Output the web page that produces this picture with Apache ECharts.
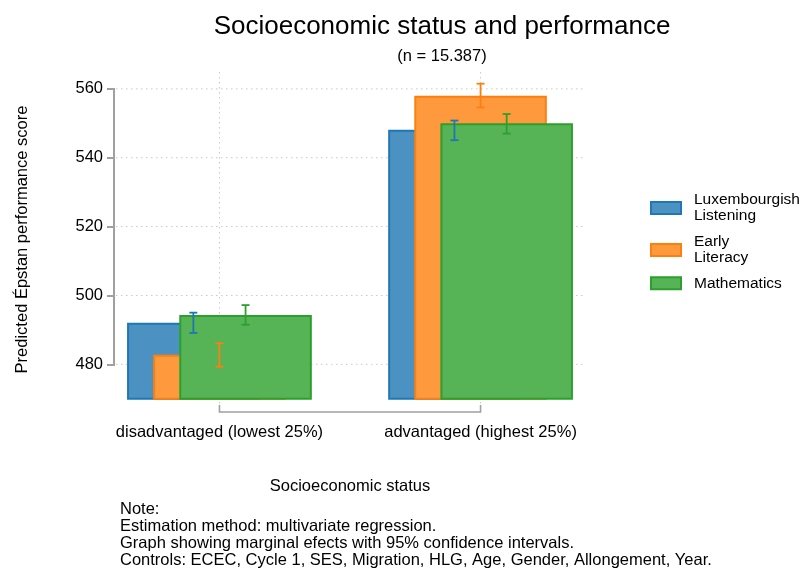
<!DOCTYPE html>
<html>
<head>
<meta charset="utf-8">
<script src="https://cdn.jsdelivr.net/npm/echarts@6/dist/echarts.min.js"></script>
<style>
  html, body { margin: 0; padding: 0; background: #fff; }
  #main { width: 808px; height: 569px; }
</style>
</head>
<body>
<div id="main"></div>
<script>
// categories on the x axis (placed at 0 and 1 on a value axis)
var categories = ['disadvantaged (lowest 25%)', 'advantaged (highest 25%)'];
var seriesNames = ['Luxembourgish\nListening', 'Early\nLiteracy', 'Mathematics'];

// predicted scores + 95% CI
var listening   = [491.8, 547.8];
var listeningLo = [489.1, 545.1];
var listeningHi = [495.0, 550.8];

var literacy    = [482.5, 557.7];
var literacyLo  = [479.3, 554.6];
var literacyHi  = [486.1, 561.5];

var maths       = [494.0, 549.7];
var mathsLo     = [491.5, 547.0];
var mathsHi     = [497.2, 552.7];

var yTicks = [480, 500, 520, 540, 560];
var notes = [
    'Note:',
    'Estimation method: multivariate regression.',
    'Graph showing marginal efects with 95% confidence intervals.',
    'Controls: ECEC, Cycle 1, SES, Migration, HLG, Age, Gender, Allongement, Year.'
];

var base = 470;      // bars start here
var barW = 0.5;      // bar width in x units
var shift = 0.1;     // offset between overlapping bars
var font = 'Liberation Sans, Arial, Helvetica, sans-serif';

var strokes = ['#1f77b4', '#ff7f0e', '#2ca02c'];
var fills   = ['#4b92c3', '#ff993e', '#56b356'];

function barData(vals) {
    return vals.map(function (v, i) { return [i, v]; });
}
function ciData(lo, hi) {
    return lo.map(function (v, i) { return [i, v, hi[i]]; });
}

function barRender(k) {
    return function (params, api) {
        var x = api.value(0) + (k - 1) * shift;
        var tl = api.coord([x - barW / 2, api.value(1)]);
        var br = api.coord([x + barW / 2, base]);
        return {
            type: 'rect',
            shape: { x: tl[0], y: tl[1], width: br[0] - tl[0], height: br[1] - tl[1] },
            style: { fill: fills[k], stroke: strokes[k], lineWidth: 2 }
        };
    };
}

function errRender(k) {
    return function (params, api) {
        var x = api.value(0) + (k - 1) * shift;
        var lo = api.coord([x, api.value(1)]);
        var hi = api.coord([x, api.value(2)]);
        var c = 4;
        var st = { stroke: strokes[k], lineWidth: 1.8 };
        return {
            type: 'group',
            children: [
                { type: 'line', shape: { x1: lo[0], y1: lo[1], x2: hi[0], y2: hi[1] }, style: st },
                { type: 'line', shape: { x1: lo[0] - c, y1: lo[1], x2: lo[0] + c, y2: lo[1] }, style: st },
                { type: 'line', shape: { x1: hi[0] - c, y1: hi[1], x2: hi[0] + c, y2: hi[1] }, style: st }
            ]
        };
    };
}

// grid lines, y axis line and the x bracket
function decoRender(params, api) {
    var kids = [];
    var dotted = { stroke: '#c8c8c8', lineWidth: 1, lineDash: [1.5, 3.5] };
    yTicks.forEach(function (t) {
        var a = api.coord([-0.4, t]), b = api.coord([1.4, t]);
        kids.push({ type: 'line', shape: { x1: a[0] + 1, y1: a[1], x2: b[0], y2: b[1] }, style: dotted });
    });
    categories.forEach(function (c, i) {
        var a = api.coord([i, 564.9]), b = api.coord([i, 467.6]);
        kids.push({ type: 'line', shape: { x1: a[0], y1: a[1], x2: b[0], y2: b[1] }, style: dotted });
    });
    var y0 = api.coord([-0.4, yTicks[0]]), y1 = api.coord([-0.4, yTicks[yTicks.length - 1]]);
    kids.push({ type: 'line', shape: { x1: y0[0] - 1, y1: y0[1], x2: y1[0] - 1, y2: y1[1] }, style: { stroke: '#a0a0a0', lineWidth: 2 } });
    var p0 = api.coord([0, 467.6]), p1 = api.coord([1, 467.6]);
    var by = p0[1] + 5;
    kids.push({ type: 'polyline', shape: { points: [[p0[0], p0[1] - 2], [p0[0], by], [p1[0], by], [p1[0], p1[1] - 2]] }, style: { stroke: '#a0a0a0', lineWidth: 1.6, fill: null } });
    return { type: 'group', children: kids };
}

var chart = echarts.init(document.getElementById('main'));

var option = {
    backgroundColor: '#fff',
    animation: false,
    textStyle: { fontFamily: font },
    title: [
        { text: 'Socioeconomic status and performance', left: 442, top: 27, padding: 0,
          textAlign: 'center', textVerticalAlign: 'middle',
          textStyle: { fontSize: 26, fontWeight: 'normal', color: '#000', fontFamily: font } },
        { text: '(n = 15.387)', left: 442, top: 56, padding: 0,
          textAlign: 'center', textVerticalAlign: 'middle',
          textStyle: { fontSize: 16.5, fontWeight: 'normal', color: '#000', fontFamily: font } },
        { text: notes.join('\n'), left: 120, top: 501.5, padding: 0,
          textStyle: { fontSize: 16.5, lineHeight: 16.8, fontWeight: 'normal', color: '#000', fontFamily: font } }
    ],
    legend: seriesNames.map(function (n, k) {
        return {
            orient: 'vertical', left: 650, top: [192, 234, 275.3][k], padding: 0,
            itemWidth: 30, itemHeight: 12, icon: 'rect',
            data: [{ name: n, itemStyle: { color: fills[k], borderColor: strokes[k], borderWidth: 2 } }],
            textStyle: { fontSize: 15.5, lineHeight: 16, color: '#000', fontFamily: font, padding: [0, 0, 0, 8] }
        };
    }),
    grid: { left: 115, right: 223, top: 72, height: 335 },
    xAxis: {
        type: 'value', min: -0.4, max: 1.4,
        axisLine: { show: false, onZero: false }, axisTick: { show: false }, splitLine: { show: false },
        axisLabel: {
            customValues: [0, 1], margin: 17, fontSize: 16.5, color: '#000',
            formatter: function (v) { return categories[Math.round(v)]; }
        },
        name: 'Socioeconomic status', nameLocation: 'middle', nameGap: 71,
        nameTextStyle: { fontSize: 16.5, color: '#000' }
    },
    yAxis: {
        type: 'value', min: 467.6, max: 564.9,
        axisLine: { show: false, onZero: false }, splitLine: { show: false },
        axisTick: { show: true, customValues: yTicks, length: 8, lineStyle: { color: '#a0a0a0', width: 2 } },
        axisLabel: { customValues: yTicks, margin: 12, fontSize: 16.5, color: '#000' },
        name: 'Predicted Épstan performance score', nameLocation: 'middle', nameGap: 84,
        nameTextStyle: { fontSize: 16.5, color: '#000' }
    },
    series: [
        { type: 'custom', name: 'deco', z: 1, silent: true, renderItem: decoRender, data: [[0, 480]] },
        { type: 'custom', name: seriesNames[0], z: 2, renderItem: barRender(0), data: barData(listening) },
        { type: 'custom', name: seriesNames[1], z: 3, renderItem: barRender(1), data: barData(literacy) },
        { type: 'custom', name: seriesNames[2], z: 4, renderItem: barRender(2), data: barData(maths) },
        { type: 'custom', name: 'ci0', z: 5, renderItem: errRender(0), data: ciData(listeningLo, listeningHi) },
        { type: 'custom', name: 'ci1', z: 5, renderItem: errRender(1), data: ciData(literacyLo, literacyHi) },
        { type: 'custom', name: 'ci2', z: 5, renderItem: errRender(2), data: ciData(mathsLo, mathsHi) }
    ]
};

chart.setOption(option);
</script>
</body>
</html>
